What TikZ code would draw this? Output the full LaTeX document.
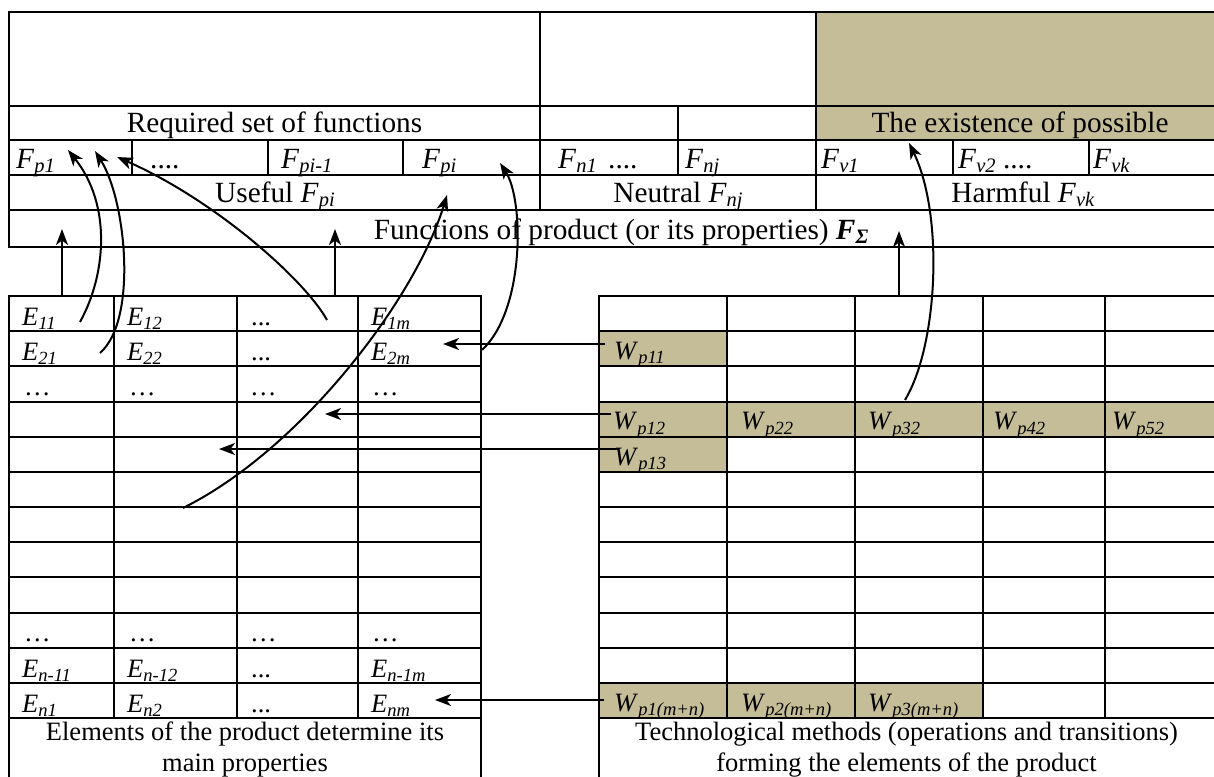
\documentclass[tikz,border=0pt]{standalone}
\usepackage{fontspec}
\setmainfont{Liberation Serif}
\usetikzlibrary{arrows.meta}
\definecolor{tanc}{RGB}{196,189,151}
\newcommand\fs[2]{\textit{#1}\raisebox{-0.17em}{\scalebox{0.7}{\textit{#2}}}}
\newcommand\fsb[2]{\textbf{\textit{#1}}\raisebox{-0.17em}{\scalebox{0.7}{\textbf{\textit{#2}}}}}
\newcommand\cellfont{\fontsize{26.5pt}{31pt}\selectfont}
\newcommand\topfont{\fontsize{29.3pt}{33pt}\selectfont}
\begin{document}
\begin{tikzpicture}[x=1pt,y=-1pt,
  grid/.style={line width=2pt, line cap=rect},
  lab/.style={anchor=base west, inner sep=0pt, font=\cellfont},
  ctr/.style={anchor=base, inner sep=0pt, font=\cellfont},
  tlab/.style={anchor=base west, inner sep=0pt, font=\topfont},
  tctr/.style={anchor=base, inner sep=0pt, font=\topfont},
  arr/.style={line width=2pt, -{Stealth[length=16pt,width=12pt,inset=4.5pt]}}]
\useasboundingbox (0,0) rectangle (1214,776);
\clip (0,0) rectangle (1214,776);
% ---------- tan fills ----------
\fill[tanc] (816,12) rectangle (1230,140);
\fill[tanc] (599,331.2) rectangle (727,366.3);
\fill[tanc] (599,401.5) rectangle (1230,436.7);
\fill[tanc] (599,436.7) rectangle (727,471.8);
\fill[tanc] (599,682.8) rectangle (983,718);
% ---------- top table ----------
\foreach \y in {12,106,140,175,210,247} \draw[grid] (9,\y) -- (1230,\y);
\draw[grid] (9,12) -- (9,247);
\draw[grid] (540,12) -- (540,210);
\draw[grid] (816,12) -- (816,210);
\draw[grid] (678,106) -- (678,175);
\foreach \x in {132,268,403,953,1089} \draw[grid] (\x,140) -- (\x,175);
% ---------- lower tables ----------
\foreach \y in {296,331.2,366.3,401.5,436.7,471.8,507,542.2,577.3,612.5,647.7,682.8,718} {
  \draw[grid] (9,\y) -- (481,\y);
  \draw[grid] (599,\y) -- (1230,\y);
}
\draw[grid] (9,296) -- (9,780);
\draw[grid] (481,296) -- (481,780);
\foreach \x in {114,237,358} \draw[grid] (\x,296) -- (\x,718);
\draw[grid] (599,296) -- (599,780);
\foreach \x in {727,855,983,1105} \draw[grid] (\x,296) -- (\x,718);
% ---------- top table texts ----------
\node[tctr] (req) at (274.5,132) {Required set of functions};
\node[tctr] (exist) at (1020,132) {The existence of possible};
\node[tlab] (fp1) at (16,168) {\fs{F}{p1}};
\node[tlab] (fdots1) at (150,168) {....};
\node[tlab] (fpim) at (281,168) {\fs{F}{pi-1}};
\node[tlab] (fpi) at (422,168) {\fs{F}{pi}};
\node[tlab] (fn1) at (558,168) {\fs{F}{n1}};
\node[tlab] (fdots2) at (608,168) {....};
\node[tlab] (fnj) at (685,168) {\fs{F}{nj}};
\node[tlab] (fv1) at (821,168) {\fs{F}{v1}};
\node[tlab] (fv2) at (958,168) {\fs{F}{v2} ....};
\node[tlab] (fvk) at (1093,168) {\fs{F}{vk}};
\node[tctr] (useful) at (275,202) {Useful \fs{F}{pi}};
\node[tctr] (neutral) at (678,202) {Neutral \fs{F}{nj}};
\node[tctr] (harmful) at (1023,202) {Harmful \fs{F}{vk}};
\node[tctr] (funcs) at (621,239) {Functions of product (or its properties) \fsb{F}{Σ}};
% ---------- left table texts ----------
\node[lab] (e11) at (22,325) {\fs{E}{11}};
\node[lab] (e12) at (127,325) {\fs{E}{12}};
\node[lab] (e13) at (251,325) {...};
\node[lab] (e1m) at (371,325) {\fs{E}{1m}};
\node[lab] (e21) at (22,360) {\fs{E}{21}};
\node[lab] (e22) at (127,360) {\fs{E}{22}};
\node[lab] (e23) at (251,360) {...};
\node[lab] (e2m) at (371,360) {\fs{E}{2m}};
\node[lab] (d31) at (24,395.5) {…};
\node[lab] (d32) at (129,395.5) {…};
\node[lab] (d33) at (250,395.5) {…};
\node[lab] (d34) at (372,395.5) {…};
\node[lab] (d101) at (24,641.5) {…};
\node[lab] (d102) at (129,641.5) {…};
\node[lab] (d103) at (250,641.5) {…};
\node[lab] (d104) at (372,641.5) {…};
\node[lab] (en11) at (22,677) {\fs{E}{n-11}};
\node[lab] (en12) at (127,677) {\fs{E}{n-12}};
\node[lab] (en13) at (251,677) {...};
\node[lab] (en1m) at (371,677) {\fs{E}{n-1m}};
\node[lab] (en1) at (22,712) {\fs{E}{n1}};
\node[lab] (en2) at (127,712) {\fs{E}{n2}};
\node[lab] (en3) at (251,712) {...};
\node[lab] (enm) at (371,712) {\fs{E}{nm}};
\node[ctr] (capl1) at (245,740) {Elements of the product determine its};
\node[ctr] (capl2) at (245,771) {main properties};
% ---------- right table texts ----------
\node[lab] (w11) at (614,359) {\fs{W}{p11}};
\node[lab] (w12) at (613,429.5) {\fs{W}{p12}};
\node[lab] (w22) at (741,429.5) {\fs{W}{p22}};
\node[lab] (w32) at (868,429.5) {\fs{W}{p32}};
\node[lab] (w42) at (993,429.5) {\fs{W}{p42}};
\node[lab] (w52) at (1112,429.5) {\fs{W}{p52}};
\node[lab] (w13) at (614,465) {\fs{W}{p13}};
\node[lab] (wm1) at (614,711) {\fs{W}{p1(m+n)}};
\node[lab] (wm2) at (741,711) {\fs{W}{p2(m+n)}};
\node[lab] (wm3) at (868,711) {\fs{W}{p3(m+n)}};
\node[ctr] (capr1) at (906.5,740) {Technological methods (operations and transitions)};
\node[ctr] (capr2) at (906.5,771) {forming the elements of the product};
% ---------- arrow end points ----------
\coordinate (a1s) at (62,296);   \coordinate (a1e) at (62,229);
\coordinate (a2s) at (335,296);  \coordinate (a2e) at (335,229);
\coordinate (a3s) at (899,296);  \coordinate (a3e) at (899,231);
\coordinate (c1s) at (80,322);   \coordinate (c1e) at (68,150);
\coordinate (c2s) at (100,353);  \coordinate (c2e) at (95,151);
\coordinate (c3s) at (327,320);  \coordinate (c3e) at (117,157);
\coordinate (c4s) at (183,508);  \coordinate (c4e) at (447,195);
\coordinate (c5s) at (482,350);  \coordinate (c5e) at (500,163);
\coordinate (c6s) at (905,400);  \coordinate (c6e) at (909,143);
\coordinate (h1s) at (605,344);  \coordinate (h1e) at (443,344);
\coordinate (h2s) at (611,414);  \coordinate (h2e) at (325,414);
\coordinate (h3s) at (619,449);  \coordinate (h3e) at (219,449);
\coordinate (h4s) at (604,700);  \coordinate (h4e) at (435,700);
% ---------- arrows ----------
\draw[arr] (a1s) -- (a1e);
\draw[arr] (a2s) -- (a2e);
\draw[arr] (a3s) -- (a3e);
\draw[arr] (c1s) .. controls (106,275) and (112,205) .. (c1e);
\draw[arr] (c2s) .. controls (138,320) and (126,200) .. (c2e);
\draw[arr] (c3s) .. controls (305,280) and (215,200) .. (c3e);
\draw[arr] (c4s) .. controls (300,450) and (415,300) .. (c4e);
\draw[arr] (c5s) .. controls (525,310) and (524,200) .. (c5e);
\draw[arr] (c6s) .. controls (938,345) and (944,215) .. (c6e);
\draw[arr] (h1s) -- (h1e);
\draw[arr] (h2s) -- (h2e);
\draw[arr] (h3s) -- (h3e);
\draw[arr] (h4s) -- (h4e);
\end{tikzpicture}
\end{document}
